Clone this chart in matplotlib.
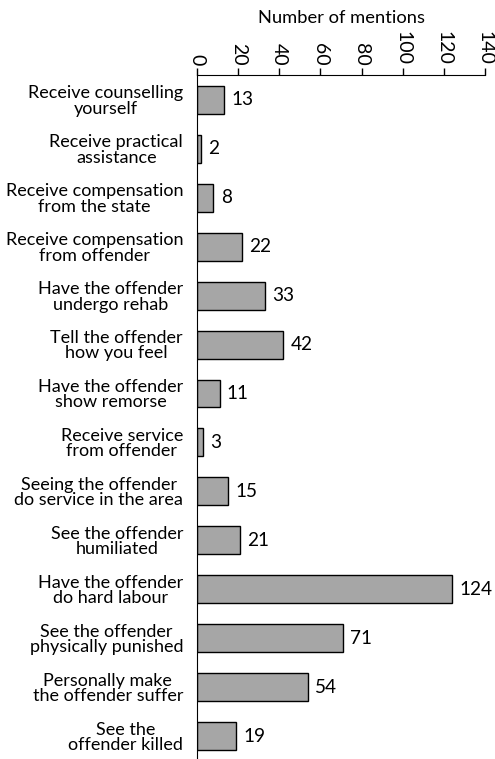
import matplotlib.pyplot as plt

labels = [
    'Receive counselling\nyourself',
    'Receive practical\nassistance',
    'Receive compensation\nfrom the state',
    'Receive compensation\nfrom offender',
    'Have the offender\nundergo rehab',
    'Tell the offender\nhow you feel',
    'Have the offender\nshow remorse',
    'Receive service\nfrom offender',
    'Seeing the offender\ndo service in the area',
    'See the offender\nhumiliated',
    'Have the offender\ndo hard labour',
    'See the offender\nphysically punished',
    'Personally make\nthe offender suffer',
    'See the\noffender killed',
]
mentions = [13, 2, 8, 22, 33, 42, 11, 3, 15, 21, 124, 71, 54, 19]
xticks = [0, 20, 40, 60, 80, 100, 120, 140]

plt.rcParams['font.family'] = ['Lato', 'DejaVu Sans']
plt.rcParams['font.size'] = 13

fig = plt.figure(figsize=(4.95, 7.59), dpi=100)
ax = fig.add_axes([197 / 495, 0, 288 / 495, 1 - 75 / 759])

pos = list(range(len(labels)))
ax.barh(pos, mentions, height=0.57, color='#a6a6a6', edgecolor='black', linewidth=1)
for p, v in zip(pos, mentions):
    ax.text(v + 3.5, p, str(v), va='center', ha='left', fontsize=13.7)

ax.set_xlim(0, 140)
ax.set_ylim(13.47, -0.51)
ax.set_yticks(pos)
ax.set_yticklabels(labels, linespacing=0.95, multialignment='center')
ax.tick_params(axis='y', length=0, pad=10)

ax.xaxis.tick_top()
ax.xaxis.set_label_position('top')
ax.set_xticks(xticks)
ax.set_xticklabels([str(t) for t in xticks], rotation=-90, fontsize=14)
ax.tick_params(axis='x', length=5, width=1, pad=2)
ax.set_xlabel('Number of mentions', labelpad=6, fontsize=13.2)

ax.spines['right'].set_visible(False)
ax.spines['bottom'].set_visible(False)

fig.savefig('out.png', dpi=100)
